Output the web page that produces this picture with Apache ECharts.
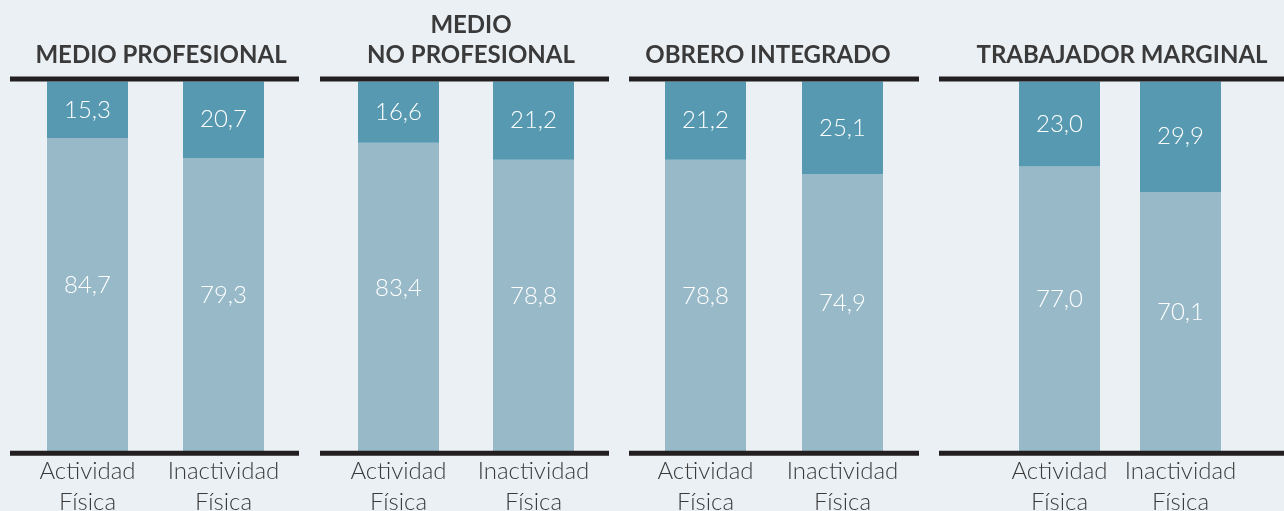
<!DOCTYPE html>
<html>
<head>
<meta charset="utf-8">
<script src="https://cdn.jsdelivr.net/npm/echarts@6/dist/echarts.min.js"></script>
<style>
html,body{margin:0;padding:0;background:#ebf0f4;}
#c{width:1284px;height:511px;}
</style>
</head>
<body>
<div id="c"></div>
<script>
const categories = ['Actividad\nFísica', 'Inactividad\nFísica'];
const groups = ['MEDIO PROFESIONAL', 'MEDIO\nNO PROFESIONAL', 'OBRERO INTEGRADO', 'TRABAJADOR MARGINAL'];
const topValues = [[15.3, 20.7], [16.6, 21.2], [21.2, 25.1], [23.0, 29.9]];
const bottomValues = [[84.7, 79.3], [83.4, 78.8], [78.8, 74.9], [77.0, 70.1]];

// layout (pixels)
const panels = [
  {c1: 87.5, d: 136, x1: 10, x2: 299, titleX: 156, titleTop: 35},
  {c1: 398.5, d: 135, x1: 320, x2: 609, titleX: 466, titleTop: 5},
  {c1: 705.5, d: 137, x1: 629, x2: 919, titleX: 763, titleTop: 35},
  {c1: 1059.5, d: 121, x1: 939, x2: 1284, titleX: 1117, titleTop: 35}
];
const gridTop = 81.5, gridBottomY = 451;
const DARK = '#5699b0', LIGHT = '#97b9c8', INK = '#231f20', TEXT = '#3a3a3a';
const FONT = 'Lato, "Open Sans", sans-serif';

const fmt = p => p.value.toFixed(1).replace('.', ',');

const option = {
  backgroundColor: '#ebf0f4',
  animation: false,
  title: [], grid: [], xAxis: [], yAxis: [], series: [], graphic: []
};

panels.forEach((p, i) => {
  const left = p.c1 - p.d / 2;
  option.title.push({
    text: groups[i],
    left: p.titleX,
    top: p.titleTop,
    textAlign: 'center',
    textStyle: {fontFamily: FONT, fontWeight: 'bold', fontSize: 24, color: TEXT, lineHeight: 30, align: 'center'}
  });
  option.grid.push({left: left, width: p.d * 2, top: gridTop, height: gridBottomY - gridTop, containLabel: false, outerBoundsMode: 'none'});
  option.xAxis.push({
    type: 'category', gridIndex: i, data: categories,
    axisLine: {show: false}, axisTick: {show: false},
    axisLabel: {fontFamily: FONT, fontWeight: 300, fontSize: 24, color: TEXT, lineHeight: 31, margin: 5, interval: 0, hideOverlap: false}
  });
  option.yAxis.push({type: 'value', gridIndex: i, min: 0, max: 100, show: false});
  option.series.push({
    type: 'bar', xAxisIndex: i, yAxisIndex: i, stack: 's' + i, barWidth: 81,
    data: bottomValues[i], itemStyle: {color: LIGHT},
    label: {show: true, position: 'inside', offset: [0, -9], formatter: fmt, fontFamily: FONT, fontWeight: 300, fontSize: 24, color: '#ffffff'}
  });
  option.series.push({
    type: 'bar', xAxisIndex: i, yAxisIndex: i, stack: 's' + i, barWidth: 81,
    data: topValues[i], itemStyle: {color: DARK},
    label: {show: true, position: 'inside', formatter: fmt, fontFamily: FONT, fontWeight: 300, fontSize: 24, color: '#ffffff'}
  });
  option.graphic.push({type: 'line', z: 100, shape: {x1: p.x1, y1: 79, x2: p.x2, y2: 79}, style: {stroke: INK, lineWidth: 5}});
  option.graphic.push({type: 'line', z: 100, shape: {x1: p.x1, y1: 453.3, x2: p.x2, y2: 453.3}, style: {stroke: INK, lineWidth: 5}});
});

const chart = echarts.init(document.getElementById('c'), null, {renderer: 'canvas'});
chart.setOption(option);
</script>
</body>
</html>
